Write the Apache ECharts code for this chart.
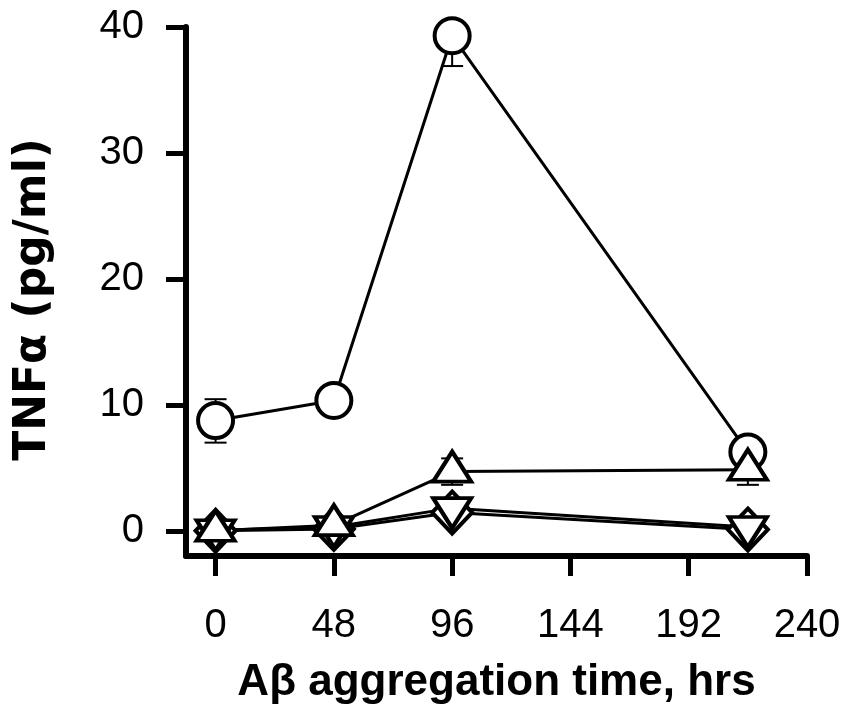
<!DOCTYPE html>
<html>
<head>
<meta charset="utf-8">
<script src="https://cdn.jsdelivr.net/npm/echarts@6/dist/echarts.min.js"></script>
<style>html,body{margin:0;padding:0;background:#fff}#c{width:847px;height:710px}</style>
</head>
<body>
<div id="c"></div>
<script>
// x positions (hours)
var times = [0, 48, 96, 216];
var xTicks = [0, 48, 96, 144, 192, 240];
var yTicks = [0, 10, 20, 30, 40];

// series values (pg/ml)
var circleVals = [8.75, 10.35, 39.3, 6.25];
var circleErrLow = [1.75, 0.3, 2.4, 0.3];
var circleErrHigh = [1.7, 0.3, 0, 0.3];

var triUpVals = [0.0, 0.45, 4.7, 4.85];
var triUpErrLow = [0.1, 0.4, 1.05, 1.2];
var triUpErrHigh = [0.1, 0.4, 1.05, 1.2];

var triDownVals = [0.05, 0.3, 1.8, 0.3];
var triDownErr = [0.1, 0.3, 0.35, 0.1];

var diamondVals = [0.0, 0.15, 1.45, 0.1];
var diamondErr = [0.1, 0.2, 0.3, 0.1];

var chart = echarts.init(document.getElementById('c'));

function pts(vals) { return times.map(function (t, i) { return [t, vals[i]]; }); }
function errData(vals, lo, hi) {
  return times.map(function (t, i) { return [t, vals[i] - lo[i], vals[i] + hi[i]]; });
}
function errSeries(vals, lo, hi) {
  return {
    type: 'custom', z: 1, silent: true,
    data: errData(vals, lo, hi),
    renderItem: function (params, api) {
      var x = api.value(0);
      var a = api.coord([x, api.value(1)]);
      var b = api.coord([x, api.value(2)]);
      var hw = 11;
      var st = { stroke: '#000', lineWidth: 2 };
      return {
        type: 'group', children: [
          { type: 'line', shape: { x1: a[0], y1: a[1], x2: b[0], y2: b[1] }, style: st },
          { type: 'line', shape: { x1: a[0] - hw, y1: a[1], x2: a[0] + hw, y2: a[1] }, style: st },
          { type: 'line', shape: { x1: b[0] - hw, y1: b[1], x2: b[0] + hw, y2: b[1] }, style: st }
        ]
      };
    }
  };
}
function lineSeries(vals, symbol, size, extra) {
  var s = {
    type: 'line', z: 2, data: pts(vals), symbol: symbol, symbolSize: size,
    showAllSymbol: true, animation: false,
    lineStyle: { color: '#000', width: 3 },
    itemStyle: { color: '#fff', borderColor: '#000', borderWidth: 4 }
  };
  for (var k in extra) s[k] = extra[k];
  return s;
}

var tickFont = "'Liberation Sans Narrow', 'Arial Narrow', 'Liberation Sans', Arial, sans-serif";
var font = "'Liberation Sans', Arial, sans-serif";

chart.setOption({
  animation: false,
  backgroundColor: '#fff',
  grid: { left: 186, right: 40, top: 27, bottom: 145, containLabel: false },
  xAxis: {
    type: 'value', min: -12, max: 240,
    name: 'A\u03b2 aggregation time, hrs', nameLocation: 'middle', nameGap: 105,
    nameTextStyle: { fontFamily: font, fontSize: 44, fontWeight: 'bold', color: '#000' },
    axisLine: { onZero: false, lineStyle: { color: '#000', width: 6 } },
    axisTick: { show: true, length: 20, inside: false, lineStyle: { color: '#000', width: 5 }, customValues: xTicks },
    axisLabel: { margin: 50, fontFamily: tickFont, fontSize: 40, color: '#000', customValues: xTicks },
    splitLine: { show: false }
  },
  yAxis: {
    type: 'value', min: -2, max: 40,
    name: 'TNF\u03b1 (pg/ml)', nameLocation: 'middle', nameGap: 130, nameRotate: 90,
    nameTextStyle: { fontFamily: "'DejaVu Sans', sans-serif", fontSize: 44, fontWeight: 'bold', color: '#000', padding: [0, 16, 0, 0] },
    axisLine: { onZero: false, lineStyle: { color: '#000', width: 6 } },
    axisTick: { show: true, length: 20, lineStyle: { color: '#000', width: 5 }, customValues: yTicks },
    axisLabel: { margin: 42, fontFamily: tickFont, fontSize: 40, color: '#000', customValues: yTicks },
    splitLine: { show: false }
  },
  series: [
    errSeries(circleVals, circleErrLow, circleErrHigh),
    errSeries(triUpVals, triUpErrLow, triUpErrHigh),
    errSeries(triDownVals, triDownErr, triDownErr),
    errSeries(diamondVals, diamondErr, diamondErr),
    lineSeries(diamondVals, 'diamond', [40, 42], {}),
    lineSeries(triDownVals, 'triangle', [38, 30], { symbolRotate: 180, symbolOffset: [0, 5] }),
    lineSeries(circleVals, 'circle', 35, {}),
    lineSeries(triUpVals, 'triangle', [38, 30], { symbolOffset: [0, -5] })
  ]
});
</script>
</body>
</html>
